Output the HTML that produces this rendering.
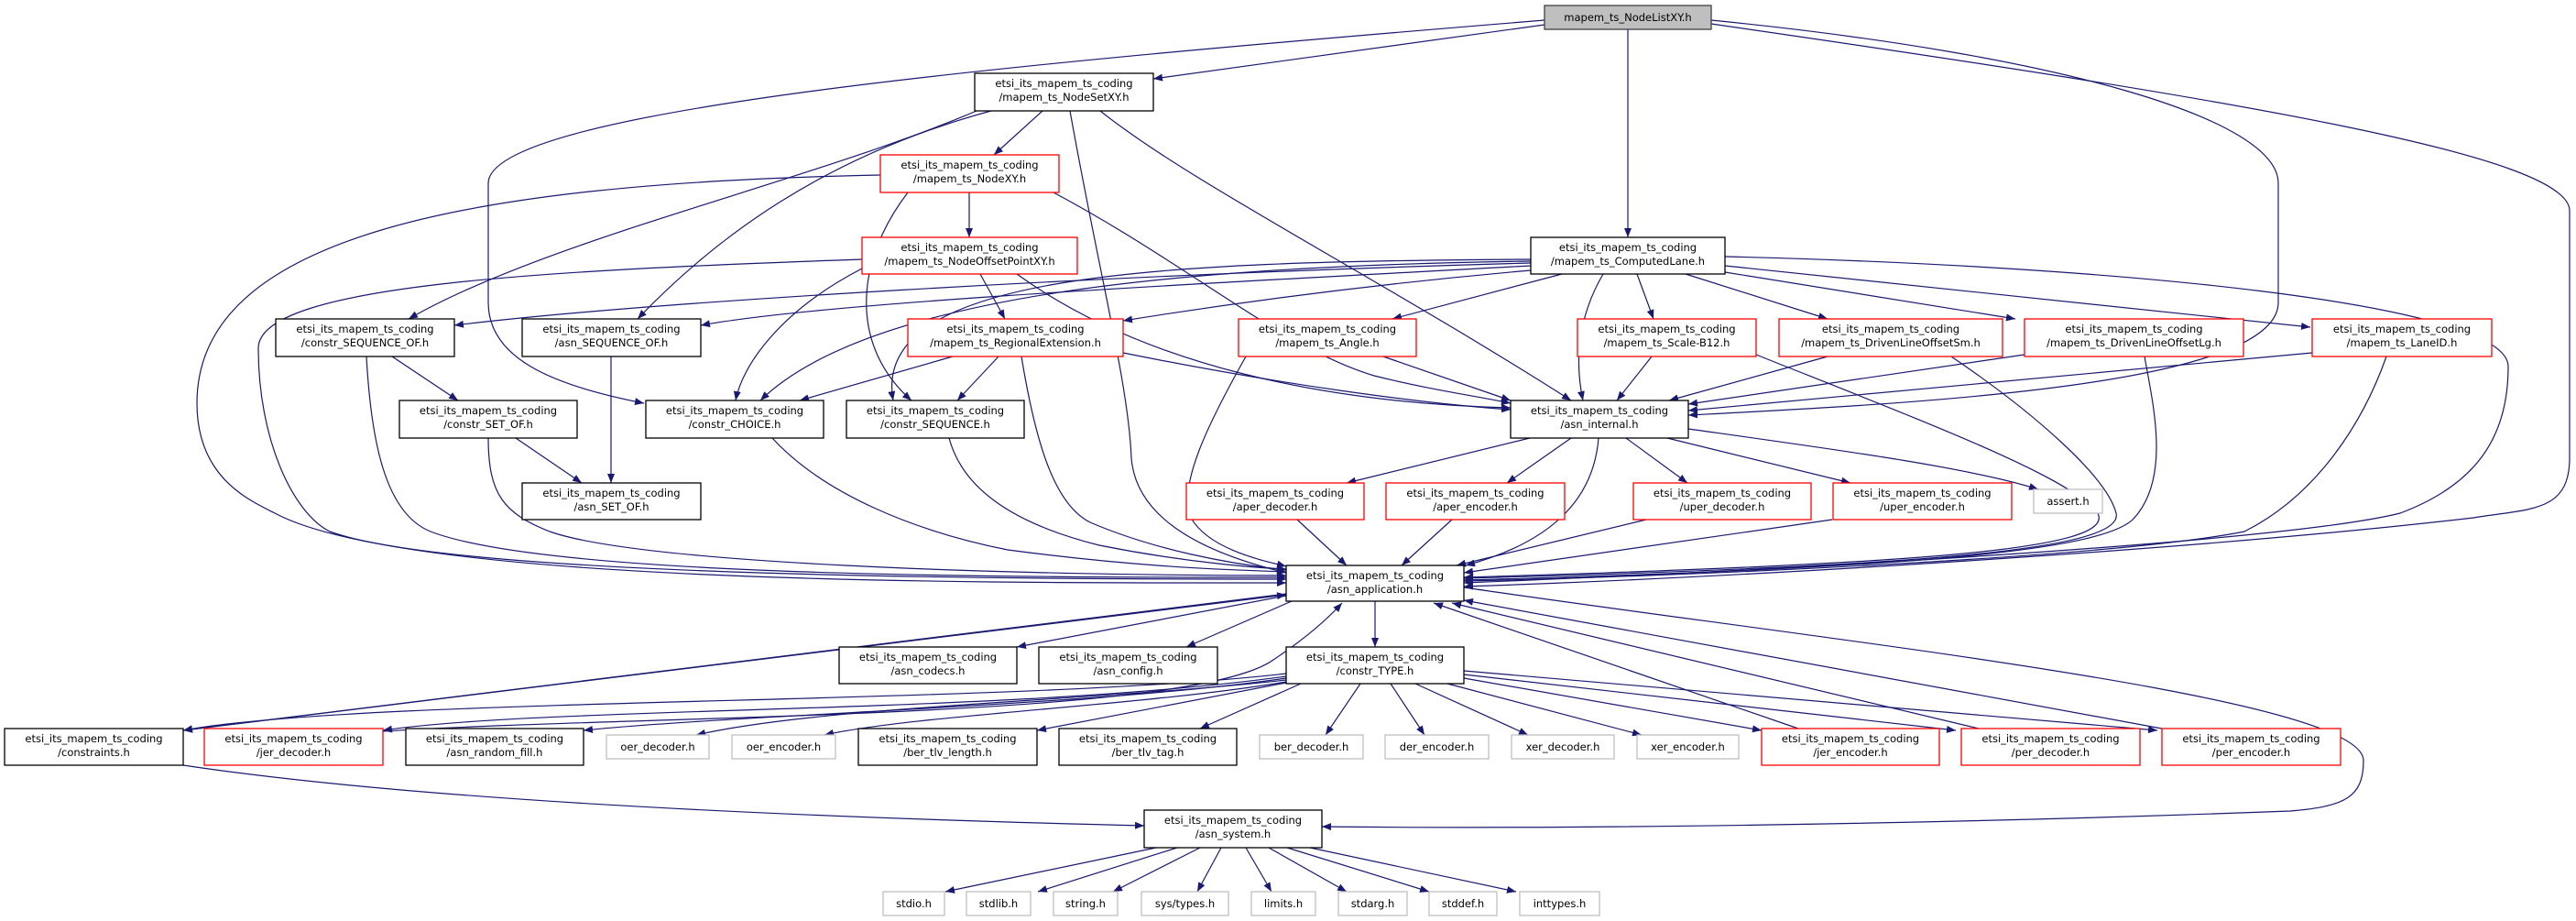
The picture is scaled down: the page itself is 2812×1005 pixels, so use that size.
<!DOCTYPE html>
<html><head><meta charset="utf-8"><style>
html,body{margin:0;padding:0;background:#fff;}
svg{display:block;}
text{font-family:"DejaVu Sans","Liberation Sans",sans-serif;font-size:11.5px;fill:#000;text-anchor:middle;}
.e{fill:none;stroke:#191970;stroke-width:1.2;marker-end:url(#a);}
.b{fill:#fff;stroke:#000;stroke-width:1.3;}
.r{fill:#fff;stroke:#ff0000;stroke-width:1.3;}
.g{fill:#fff;stroke:#bfbfbf;stroke-width:1.3;}
</style></head><body>
<svg width="2812" height="1005" viewBox="0 0 2812 1005" xmlns="http://www.w3.org/2000/svg">
<defs><marker id="a" viewBox="0 0 10 8" refX="10" refY="4" markerWidth="10" markerHeight="8" markerUnits="userSpaceOnUse" orient="auto"><path d="M0,0L10,4L0,8z" fill="#191970"/></marker></defs>
<g>
<path class="e" d="M1686,27 L1259,86"/>
<path class="e" d="M1686,22 C1100,70 533,120 533,200 L533,330 C533,390 600,420 703,440"/>
<path class="e" d="M1777,32 L1777,259"/>
<path class="e" d="M1868,22 C2250,60 2487,130 2487,200 L2487,330 C2487,420 2100,440 1843,453"/>
<path class="e" d="M1868,26 C2450,110 2805,170 2805,230 L2805,500 C2805,560 2760,555 2700,565 C2400,600 1900,630 1598,640"/>
<path class="e" d="M1138,121 L1085,169"/>
<path class="e" d="M1066,121 C880,200 600,260 446,348"/>
<path class="e" d="M1082,121 C900,170 780,260 696,348"/>
<path class="e" d="M1168,121 C1200,300 1232,420 1235,500 C1240,560 1300,600 1404,625"/>
<path class="e" d="M1201,121 C1300,200 1500,300 1715,437"/>
<path class="e" d="M1058,210 L1058,259"/>
<path class="e" d="M961,191 C500,200 215,260 215,440 C215,520 270,545 300,560 C450,640 1100,636 1404,636"/>
<path class="e" d="M991,210 C930,290 930,380 995,437"/>
<path class="e" d="M1150,210 C1300,290 1400,380 1500,410 C1560,425 1610,432 1649,440"/>
<path class="e" d="M1070,299 L1097,348"/>
<path class="e" d="M941,293 C850,340 810,400 803,437"/>
<path class="e" d="M941,283 C600,295 282,310 282,380 C282,480 320,560 360,580 C500,630 1100,632 1404,632"/>
<path class="e" d="M1110,299 C1250,400 1450,440 1649,445"/>
<path class="e" d="M1671,287 C1200,300 700,330 496,355"/>
<path class="e" d="M1671,290 C1300,310 900,330 765,355"/>
<path class="e" d="M1671,295 C1500,310 1350,330 1226,350"/>
<path class="e" d="M1671,285 C1300,290 950,320 830,437"/>
<path class="e" d="M1671,283 C1250,285 950,300 975,437"/>
<path class="e" d="M1705,299 L1520,348"/>
<path class="e" d="M1787,299 L1805,348"/>
<path class="e" d="M1840,299 L1995,348"/>
<path class="e" d="M1883,297 L2200,348"/>
<path class="e" d="M1883,290 L2522,357"/>
<path class="e" d="M1750,299 C1720,350 1720,400 1728,437"/>
<path class="e" d="M1883,280 C2300,290 2738,330 2738,400 C2738,480 2700,530 2620,560 C2500,590 2000,620 1598,636"/>
<path class="e" d="M1040,389 L873,437"/>
<path class="e" d="M1090,389 L1045,437"/>
<path class="e" d="M1115,389 C1130,480 1150,550 1190,570 C1260,600 1340,615 1404,622"/>
<path class="e" d="M1226,385 C1400,420 1550,440 1649,447"/>
<path class="e" d="M1510,389 L1649,437"/>
<path class="e" d="M1360,389 C1320,460 1285,530 1300,565 C1320,600 1380,612 1404,618"/>
<path class="e" d="M1803,389 L1765,437"/>
<path class="e" d="M1917,387 C2100,460 2260,520 2290,560 C2310,600 2100,615 1598,630"/>
<path class="e" d="M1995,389 L1822,437"/>
<path class="e" d="M2130,389 C2220,450 2300,520 2310,560 C2320,600 2100,618 1598,631"/>
<path class="e" d="M2210,387 L1843,441"/>
<path class="e" d="M2341,389 C2350,440 2370,520 2330,565 C2300,600 2100,620 1598,633"/>
<path class="e" d="M2524,385 L1843,448"/>
<path class="e" d="M2605,389 C2580,460 2530,540 2450,580 C2300,610 1800,630 1598,634"/>
<path class="e" d="M428,389 L500,437"/>
<path class="e" d="M400,389 C405,480 420,560 470,580 C600,630 1100,630 1404,630"/>
<path class="e" d="M667,389 L667,527"/>
<path class="e" d="M563,478 L635,527"/>
<path class="e" d="M533,478 C533,540 550,560 600,580 C700,615 1100,628 1404,628"/>
<path class="e" d="M843,478 C900,540 1000,580 1100,600 C1250,620 1350,622 1404,624"/>
<path class="e" d="M1036,478 C1050,530 1100,570 1200,595 C1300,615 1380,620 1404,621"/>
<path class="e" d="M1670,478 L1470,527"/>
<path class="e" d="M1715,478 L1645,527"/>
<path class="e" d="M1775,478 L1842,527"/>
<path class="e" d="M1820,478 L2020,527"/>
<path class="e" d="M1843,468 C2000,490 2150,510 2225,534"/>
<path class="e" d="M1745,478 C1740,540 1700,590 1600,617"/>
<path class="e" d="M1416,567 L1470,617"/>
<path class="e" d="M1585,567 L1530,617"/>
<path class="e" d="M1797,567 L1590,617"/>
<path class="e" d="M2000,567 L1598,625"/>
<path class="e" d="M1404,650 L1110,706"/>
<path class="e" d="M1410,656 L1295,706"/>
<path class="e" d="M1501,656 L1501,706"/>
<path class="e" d="M1404,648 L200,797"/>
<path class="e" d="M200,797 L1404,649"/>
<path class="e" d="M1598,641 C2000,700 2580,760 2580,830 C2580,870 2560,880 2500,885 C2100,900 1700,905 1443,902"/>
<path class="e" d="M418,798 C700,780 1300,785 1390,720 C1420,700 1445,680 1465,658"/>
<path class="e" d="M1963,795 L1565,658"/>
<path class="e" d="M2160,795 L1585,658"/>
<path class="e" d="M2360,795 L1598,655"/>
<path class="e" d="M1404,735 C1100,770 400,760 200,797"/>
<path class="e" d="M1404,738 C1100,780 600,770 418,797"/>
<path class="e" d="M1404,740 C1200,770 800,780 637,797"/>
<path class="e" d="M1404,742 C1200,765 900,770 760,802"/>
<path class="e" d="M1404,744 C1250,770 1000,780 900,802"/>
<path class="e" d="M1404,745 L1132,797"/>
<path class="e" d="M1420,746 L1310,795"/>
<path class="e" d="M1485,746 L1447,802"/>
<path class="e" d="M1518,746 L1555,802"/>
<path class="e" d="M1545,746 L1668,802"/>
<path class="e" d="M1580,746 L1792,802"/>
<path class="e" d="M1598,740 L1923,797"/>
<path class="e" d="M1598,736 L2135,797"/>
<path class="e" d="M1598,732 L2355,797"/>
<path class="e" d="M200,835 C500,880 1000,895 1249,901"/>
<path class="e" d="M1262,925 L1032,973"/>
<path class="e" d="M1285,925 L1133,973"/>
<path class="e" d="M1310,925 L1215,973"/>
<path class="e" d="M1333,925 L1307,973"/>
<path class="e" d="M1360,925 L1388,973"/>
<path class="e" d="M1385,925 L1470,973"/>
<path class="e" d="M1405,925 L1560,973"/>
<path class="e" d="M1430,925 L1655,973"/>
</g>
<g>
<rect x="1686" y="6" width="182" height="26" fill="#bfbfbf" stroke="#404040" stroke-width="1.3"/><text x="1777" y="23">mapem_ts_NodeListXY.h</text>
<rect class="b" x="1064" y="80" width="195" height="41"/><text x="1161.5" y="95">etsi_its_mapem_ts_coding</text><text x="1161.5" y="110">/mapem_ts_NodeSetXY.h</text>
<rect class="r" x="961" y="169" width="195" height="41"/><text x="1058.5" y="184">etsi_its_mapem_ts_coding</text><text x="1058.5" y="199">/mapem_ts_NodeXY.h</text>
<rect class="r" x="941" y="259" width="235" height="40"/><text x="1058.5" y="274">etsi_its_mapem_ts_coding</text><text x="1058.5" y="289">/mapem_ts_NodeOffsetPointXY.h</text>
<rect class="b" x="1671" y="259" width="212" height="40"/><text x="1777" y="274">etsi_its_mapem_ts_coding</text><text x="1777" y="289">/mapem_ts_ComputedLane.h</text>
<rect class="b" x="301" y="348" width="195" height="41"/><text x="398.5" y="363">etsi_its_mapem_ts_coding</text><text x="398.5" y="378">/constr_SEQUENCE_OF.h</text>
<rect class="b" x="570" y="348" width="195" height="41"/><text x="667.5" y="363">etsi_its_mapem_ts_coding</text><text x="667.5" y="378">/asn_SEQUENCE_OF.h</text>
<rect class="r" x="991" y="348" width="235" height="41"/><text x="1108.5" y="363">etsi_its_mapem_ts_coding</text><text x="1108.5" y="378">/mapem_ts_RegionalExtension.h</text>
<rect class="r" x="1352" y="348" width="194" height="41"/><text x="1449" y="363">etsi_its_mapem_ts_coding</text><text x="1449" y="378">/mapem_ts_Angle.h</text>
<rect class="r" x="1722" y="348" width="195" height="41"/><text x="1819.5" y="363">etsi_its_mapem_ts_coding</text><text x="1819.5" y="378">/mapem_ts_Scale-B12.h</text>
<rect class="r" x="1942" y="348" width="244" height="41"/><text x="2064" y="363">etsi_its_mapem_ts_coding</text><text x="2064" y="378">/mapem_ts_DrivenLineOffsetSm.h</text>
<rect class="r" x="2210" y="348" width="239" height="41"/><text x="2329.5" y="363">etsi_its_mapem_ts_coding</text><text x="2329.5" y="378">/mapem_ts_DrivenLineOffsetLg.h</text>
<rect class="r" x="2524" y="348" width="196" height="41"/><text x="2622" y="363">etsi_its_mapem_ts_coding</text><text x="2622" y="378">/mapem_ts_LaneID.h</text>
<rect class="b" x="436" y="437" width="194" height="41"/><text x="533" y="452">etsi_its_mapem_ts_coding</text><text x="533" y="467">/constr_SET_OF.h</text>
<rect class="b" x="705" y="437" width="194" height="41"/><text x="802" y="452">etsi_its_mapem_ts_coding</text><text x="802" y="467">/constr_CHOICE.h</text>
<rect class="b" x="924" y="437" width="194" height="41"/><text x="1021" y="452">etsi_its_mapem_ts_coding</text><text x="1021" y="467">/constr_SEQUENCE.h</text>
<rect class="b" x="1649" y="437" width="194" height="41"/><text x="1746" y="452">etsi_its_mapem_ts_coding</text><text x="1746" y="467">/asn_internal.h</text>
<rect class="b" x="570" y="527" width="195" height="40"/><text x="667.5" y="542">etsi_its_mapem_ts_coding</text><text x="667.5" y="557">/asn_SET_OF.h</text>
<rect class="r" x="1295" y="527" width="194" height="40"/><text x="1392" y="542">etsi_its_mapem_ts_coding</text><text x="1392" y="557">/aper_decoder.h</text>
<rect class="r" x="1513" y="527" width="195" height="40"/><text x="1610.5" y="542">etsi_its_mapem_ts_coding</text><text x="1610.5" y="557">/aper_encoder.h</text>
<rect class="r" x="1783" y="527" width="194" height="40"/><text x="1880" y="542">etsi_its_mapem_ts_coding</text><text x="1880" y="557">/uper_decoder.h</text>
<rect class="r" x="2001" y="527" width="195" height="40"/><text x="2098.5" y="542">etsi_its_mapem_ts_coding</text><text x="2098.5" y="557">/uper_encoder.h</text>
<rect class="g" x="2220" y="534" width="75" height="26"/><text x="2257.5" y="551">assert.h</text>
<rect class="b" x="1404" y="617" width="194" height="39"/><text x="1501" y="632">etsi_its_mapem_ts_coding</text><text x="1501" y="647">/asn_application.h</text>
<rect class="b" x="916" y="706" width="194" height="40"/><text x="1013" y="721">etsi_its_mapem_ts_coding</text><text x="1013" y="736">/asn_codecs.h</text>
<rect class="b" x="1134" y="706" width="195" height="40"/><text x="1231.5" y="721">etsi_its_mapem_ts_coding</text><text x="1231.5" y="736">/asn_config.h</text>
<rect class="b" x="1404" y="706" width="194" height="40"/><text x="1501" y="721">etsi_its_mapem_ts_coding</text><text x="1501" y="736">/constr_TYPE.h</text>
<rect class="b" x="5" y="795" width="195" height="40"/><text x="102.5" y="810">etsi_its_mapem_ts_coding</text><text x="102.5" y="825">/constraints.h</text>
<rect class="r" x="223" y="795" width="195" height="40"/><text x="320.5" y="810">etsi_its_mapem_ts_coding</text><text x="320.5" y="825">/jer_decoder.h</text>
<rect class="b" x="443" y="795" width="194" height="40"/><text x="540" y="810">etsi_its_mapem_ts_coding</text><text x="540" y="825">/asn_random_fill.h</text>
<rect class="g" x="662" y="802" width="112" height="26"/><text x="718" y="819">oer_decoder.h</text>
<rect class="g" x="799" y="802" width="113" height="26"/><text x="855.5" y="819">oer_encoder.h</text>
<rect class="b" x="937" y="795" width="195" height="40"/><text x="1034.5" y="810">etsi_its_mapem_ts_coding</text><text x="1034.5" y="825">/ber_tlv_length.h</text>
<rect class="b" x="1156" y="795" width="194" height="40"/><text x="1253" y="810">etsi_its_mapem_ts_coding</text><text x="1253" y="825">/ber_tlv_tag.h</text>
<rect class="g" x="1375" y="802" width="113" height="26"/><text x="1431.5" y="819">ber_decoder.h</text>
<rect class="g" x="1512" y="802" width="113" height="26"/><text x="1568.5" y="819">der_encoder.h</text>
<rect class="g" x="1650" y="802" width="112" height="26"/><text x="1706" y="819">xer_decoder.h</text>
<rect class="g" x="1787" y="802" width="111" height="26"/><text x="1842.5" y="819">xer_encoder.h</text>
<rect class="r" x="1923" y="795" width="194" height="40"/><text x="2020" y="810">etsi_its_mapem_ts_coding</text><text x="2020" y="825">/jer_encoder.h</text>
<rect class="r" x="2141" y="795" width="195" height="40"/><text x="2238.5" y="810">etsi_its_mapem_ts_coding</text><text x="2238.5" y="825">/per_decoder.h</text>
<rect class="r" x="2360" y="795" width="195" height="40"/><text x="2457.5" y="810">etsi_its_mapem_ts_coding</text><text x="2457.5" y="825">/per_encoder.h</text>
<rect class="b" x="1249" y="884" width="194" height="41"/><text x="1346" y="899">etsi_its_mapem_ts_coding</text><text x="1346" y="914">/asn_system.h</text>
<rect class="g" x="964" y="973" width="67" height="26"/><text x="997.5" y="990">stdio.h</text>
<rect class="g" x="1055" y="973" width="70" height="26"/><text x="1090" y="990">stdlib.h</text>
<rect class="g" x="1150" y="973" width="70" height="26"/><text x="1185" y="990">string.h</text>
<rect class="g" x="1246" y="973" width="95" height="26"/><text x="1293.5" y="990">sys/types.h</text>
<rect class="g" x="1366" y="973" width="70" height="26"/><text x="1401" y="990">limits.h</text>
<rect class="g" x="1461" y="973" width="75" height="26"/><text x="1498.5" y="990">stdarg.h</text>
<rect class="g" x="1560" y="973" width="74" height="26"/><text x="1597" y="990">stddef.h</text>
<rect class="g" x="1659" y="973" width="87" height="26"/><text x="1702.5" y="990">inttypes.h</text>
</g>
</svg>
</body></html>
